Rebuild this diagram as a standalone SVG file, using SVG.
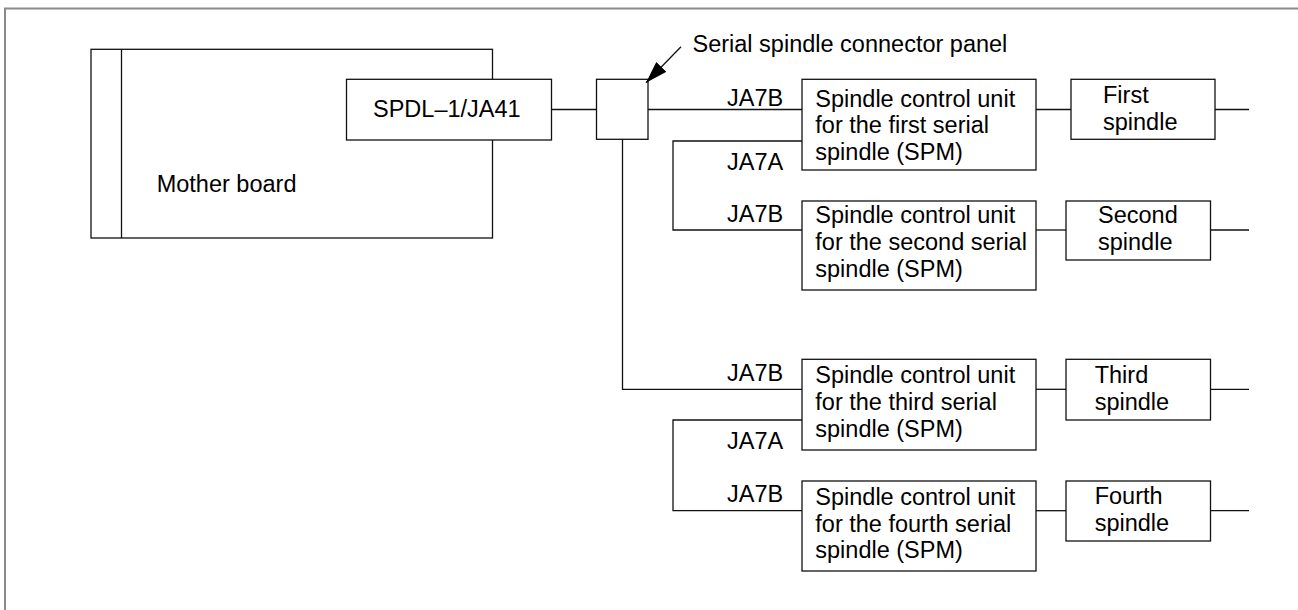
<svg xmlns="http://www.w3.org/2000/svg" width="1298" height="610" viewBox="0 0 1298 610">
<style>
.b{fill:#fff;stroke:#111;stroke-width:1.3}
.c{fill:none;stroke:#111;stroke-width:1.3}
text{font-family:"Liberation Sans",Arial,sans-serif;font-size:23.5px;fill:#000}
</style>
<defs>
<marker id="ah" markerWidth="22" markerHeight="14" refX="22" refY="7" orient="auto" markerUnits="userSpaceOnUse"><path d="M0,0 L22,7 L0,14 Z" fill="#000"/></marker>
</defs>
<rect width="1298" height="610" fill="#fff"/>
<path d="M5,610 V8.5 H1298" fill="none" stroke="#8a8a8a" stroke-width="2"/>
<g id="motherboard">
<rect class="b" x="91" y="49.3" width="401.5" height="188.7"/>
<line class="c" x1="121.5" y1="49.3" x2="121.5" y2="238"/>
<text x="156.7" y="192">Mother board</text>
</g>
<g id="spdl">
<rect class="b" x="346.5" y="79.3" width="205" height="60.7"/>
<text x="373" y="116.7">SPDL–1/JA41</text>
</g>
<g id="panel">
<rect class="b" x="596.5" y="79.3" width="51.5" height="60"/>
<text x="692.5" y="52">Serial spindle connector panel</text>
</g>
<g id="connectors">
<path class="c" d="M551.5,109.5 H596.5"/>
<path class="c" d="M648,109.5 H802"/>
<path class="c" d="M1036,109.5 H1071"/>
<path class="c" d="M1215,109.5 H1249"/>
<path class="c" d="M802,141 H673 V230 H802"/>
<path class="c" d="M1036,230 H1066"/>
<path class="c" d="M1210.5,230 H1249"/>
<path class="c" d="M622.5,139.3 V389.3 H802"/>
<path class="c" d="M1036,389.3 H1066"/>
<path class="c" d="M1210.5,389.3 H1249"/>
<path class="c" d="M802,420 H673 V510.7 H802"/>
<path class="c" d="M1036,510.7 H1066"/>
<path class="c" d="M1210.5,510.7 H1249"/>
<path class="c" d="M681,46.7 L646,82.7" marker-end="url(#ah)"/>
<text x="727" y="105.5">JA7B</text>
<text x="727" y="170">JA7A</text>
<text x="727" y="222">JA7B</text>
<text x="727" y="381">JA7B</text>
<text x="727" y="448.5">JA7A</text>
<text x="727" y="502">JA7B</text>
</g>
<g id="scu1">
<rect class="b" x="802" y="79.3" width="234" height="90.7"/>
<text x="815.3" y="106.5">Spindle control unit</text>
<text x="815.3" y="133.2">for the first serial</text>
<text x="815.3" y="160">spindle (SPM)</text>
</g>
<g id="spindle1">
<rect class="b" x="1071" y="79.3" width="144" height="60"/>
<text x="1103" y="103.3">First</text>
<text x="1103" y="130">spindle</text>
</g>
<g id="scu2">
<rect class="b" x="802" y="201" width="234" height="89"/>
<text x="815.3" y="223.3">Spindle control unit</text>
<text x="815.3" y="250">for the second serial</text>
<text x="815.3" y="276.7">spindle (SPM)</text>
</g>
<g id="spindle2">
<rect class="b" x="1066" y="201" width="144.5" height="59"/>
<text x="1098" y="223.3">Second</text>
<text x="1098" y="250">spindle</text>
</g>
<g id="scu3">
<rect class="b" x="802" y="359.3" width="234" height="90.7"/>
<text x="815.3" y="383.3">Spindle control unit</text>
<text x="815.3" y="410">for the third serial</text>
<text x="815.3" y="436.7">spindle (SPM)</text>
</g>
<g id="spindle3">
<rect class="b" x="1066" y="359.3" width="144.5" height="60.7"/>
<text x="1094.7" y="383.3">Third</text>
<text x="1094.7" y="410">spindle</text>
</g>
<g id="scu4">
<rect class="b" x="802" y="481" width="234" height="90"/>
<text x="815.3" y="505">Spindle control unit</text>
<text x="815.3" y="531.7">for the fourth serial</text>
<text x="815.3" y="558.3">spindle (SPM)</text>
</g>
<g id="spindle4">
<rect class="b" x="1066" y="481" width="144.5" height="60"/>
<text x="1094.7" y="504">Fourth</text>
<text x="1094.7" y="530.7">spindle</text>
</g>
</svg>
